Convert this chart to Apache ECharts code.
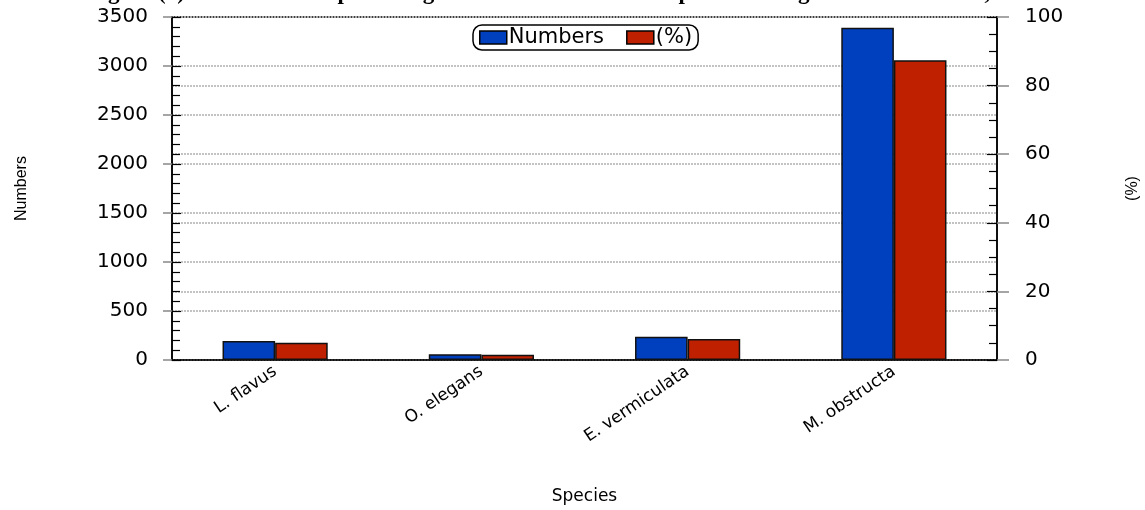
<!DOCTYPE html>
<html>
<head>
<meta charset="utf-8">
<script src="https://cdn.jsdelivr.net/npm/echarts@6/dist/echarts.min.js"></script>
<style>
html,body{margin:0;padding:0;background:#fff;}
#chart{width:1145px;height:510px;}
</style>
</head>
<body>
<div id="chart"></div>
<script>
const categories = ['L. flavus', 'O. elegans', 'E. vermiculata', 'M. obstructa'];
const numbers = [195, 58, 238, 3390];
const percents = [5.0, 1.5, 6.1, 87.4];
const leftTicks = {min: 0, max: 3500, interval: 500};
const rightTicks = {min: 0, max: 100, interval: 20};
const titleText = 'Figure (4): Numbers and percentage of recorded land snail species during 2015-2016 season, Assiut';

const FONT = 'DejaVu Sans';
const chart = echarts.init(document.getElementById('chart'), null, {renderer: 'canvas'});
const gridLine = {show: true, lineStyle: {color: '#b0b0b0', type: [2, 1], width: 1.5}};
const plain = v => String(v);

const option = {
  backgroundColor: '#fff',
  animation: false,
  title: {
    text: titleText,
    left: 'center',
    top: -23,
    textStyle: {fontFamily: 'Liberation Serif', fontWeight: 'bold', fontSize: 23, color: '#000'}
  },
  legend: {
    data: ['Numbers', '(%)'],
    top: 25,
    left: 473,
    icon: 'rect',
    itemWidth: 27,
    itemHeight: 13,
    itemGap: 22,
    padding: [2, 6, 2, 6],
    borderColor: '#000',
    borderWidth: 1.5,
    borderRadius: 9,
    itemStyle: {borderColor: '#000', borderWidth: 1.5},
    textStyle: {fontFamily: FONT, fontSize: 21, color: '#000', padding: [0, 0, 0, -3]}
  },
  grid: {left: 172, right: 148, top: 17, bottom: 150, outerBoundsMode: 'none', containLabel: false,
         show: true, borderColor: '#000', borderWidth: 1.5, backgroundColor: 'transparent'},
  xAxis: {
    type: 'category',
    data: categories,
    name: 'Species',
    nameLocation: 'middle',
    nameGap: 128,
    nameTextStyle: {fontFamily: FONT, fontSize: 17, color: '#000'},
    axisLine: {lineStyle: {color: '#000', width: 1.5}},
    axisTick: {alignWithLabel: true, length: 9, lineStyle: {color: '#444', width: 1.5}},
    axisLabel: {rotate: 34, fontFamily: FONT, fontSize: 17, color: '#000', margin: 10}
  },
  yAxis: [
    {
      type: 'value', position: 'left', min: leftTicks.min, max: leftTicks.max, interval: leftTicks.interval,
      name: 'Numbers', nameLocation: 'middle', nameGap: 142, nameRotate: 90,
      nameTextStyle: {fontFamily: 'Liberation Sans', fontSize: 16, color: '#000'},
      axisLine: {show: true, lineStyle: {color: '#000', width: 1.5}},
      axisTick: {show: true, inside: false, length: 9, lineStyle: {color: '#888', width: 1.5}},
      axisLabel: {fontFamily: FONT, fontSize: 20, color: '#000', margin: 24, formatter: plain},
      splitLine: gridLine
    },
    {
      type: 'value', position: 'left', min: leftTicks.min, max: leftTicks.max, interval: leftTicks.interval,
      axisLine: {show: false},
      axisTick: {show: true, inside: true, length: 9, lineStyle: {color: '#000', width: 1.2}},
      minorTick: {show: true, splitNumber: 5, length: 8, lineStyle: {color: '#000', width: 1.2}},
      axisLabel: {show: false},
      splitLine: {show: false}
    },
    {
      type: 'value', position: 'right', min: rightTicks.min, max: rightTicks.max, interval: rightTicks.interval,
      name: '(%)', nameLocation: 'middle', nameGap: 128, nameRotate: 90,
      nameTextStyle: {fontFamily: 'Liberation Sans', fontSize: 16, color: '#000'},
      axisLine: {show: true, lineStyle: {color: '#000', width: 1.5}},
      axisTick: {show: true, inside: false, length: 12, lineStyle: {color: '#888', width: 1.5}},
      axisLabel: {fontFamily: FONT, fontSize: 20, color: '#000', margin: 28, formatter: plain},
      splitLine: gridLine
    },
    {
      type: 'value', position: 'right', min: rightTicks.min, max: rightTicks.max, interval: rightTicks.interval,
      axisLine: {show: false},
      axisTick: {show: true, inside: true, length: 10, lineStyle: {color: '#000', width: 1.2}},
      minorTick: {show: true, splitNumber: 4, length: 8, lineStyle: {color: '#000', width: 1.2}},
      axisLabel: {show: false},
      splitLine: {show: false}
    }
  ],
  series: [
    {
      name: 'Numbers', type: 'bar', yAxisIndex: 0, data: numbers,
      barWidth: '25.5%', barGap: '0%',
      itemStyle: {color: '#0040bf', borderColor: '#111', borderWidth: 1.5}
    },
    {
      name: '(%)', type: 'bar', yAxisIndex: 2, data: percents,
      barWidth: '25.5%', barGap: '0%',
      itemStyle: {color: '#bf2000', borderColor: '#111', borderWidth: 1.5}
    }
  ]
};
chart.setOption(option);
</script>
</body>
</html>
